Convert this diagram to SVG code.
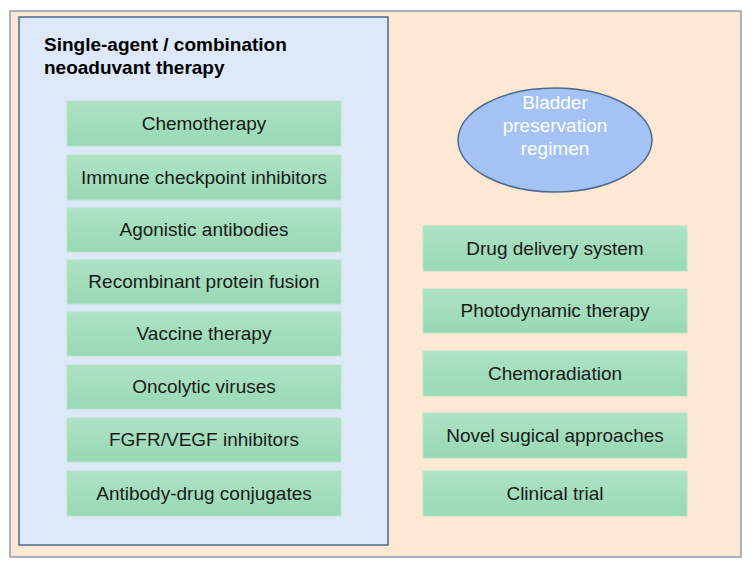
<svg xmlns="http://www.w3.org/2000/svg" width="751" height="567" viewBox="0 0 751 567">
<defs><linearGradient id="g" x1="0" y1="0" x2="0" y2="1"><stop offset="0" stop-color="#aee2c4"/><stop offset="1" stop-color="#98d9b4"/></linearGradient></defs>
<style>.b{fill:url(#g);stroke:#b7e4c9;stroke-width:1}.t{font-family:"Liberation Sans",Arial,sans-serif;font-size:19px;fill:#1a1a1a;text-anchor:middle}.h{font-family:"Liberation Sans",Arial,sans-serif;font-size:19px;font-weight:bold;fill:#000}</style>
<rect x="0" y="0" width="751" height="567" fill="#fff"/>
<rect x="10" y="11" width="731" height="546" fill="#fde9d3" stroke="#8a9bb0" stroke-width="1.5"/>
<g id="panel"><rect x="19" y="17" width="369" height="528" fill="#dde8f8" stroke="#4d6a8f" stroke-width="1.5"/>
<text class="h" x="44" y="51">Single-agent / combination</text>
<text class="h" x="44" y="74">neoaduvant therapy</text></g>
<g id="n1"><rect class="b" x="67" y="101" width="274" height="45"/><text class="t" x="204" y="130">Chemotherapy</text></g>
<g id="n2"><rect class="b" x="67" y="155" width="274" height="45"/><text class="t" x="204" y="184">Immune checkpoint inhibitors</text></g>
<g id="n3"><rect class="b" x="67" y="208" width="274" height="44"/><text class="t" x="204" y="236">Agonistic antibodies</text></g>
<g id="n4"><rect class="b" x="67" y="260" width="274" height="44"/><text class="t" x="204" y="288">Recombinant protein fusion</text></g>
<g id="n5"><rect class="b" x="67" y="312" width="274" height="44"/><text class="t" x="204" y="340">Vaccine therapy</text></g>
<g id="n6"><rect class="b" x="67" y="365" width="274" height="44"/><text class="t" x="204" y="393">Oncolytic viruses</text></g>
<g id="n7"><rect class="b" x="67" y="418" width="274" height="44"/><text class="t" x="204" y="446">FGFR/VEGF inhibitors</text></g>
<g id="n8"><rect class="b" x="67" y="471" width="274" height="45"/><text class="t" x="204" y="500">Antibody-drug conjugates</text></g>
<g id="ell"><ellipse cx="555" cy="140" rx="97" ry="52" fill="#a4c2f4" stroke="#4d6a8f" stroke-width="1.5"/>
<text class="t" x="555" y="109" style="fill:#fff">Bladder</text><text class="t" x="555" y="132" style="fill:#fff">preservation</text><text class="t" x="555" y="155" style="fill:#fff">regimen</text></g>
<g id="r1"><rect class="b" x="423" y="226" width="264" height="45"/><text class="t" x="555" y="255">Drug delivery system</text></g>
<g id="r2"><rect class="b" x="423" y="289" width="264" height="44"/><text class="t" x="555" y="317">Photodynamic therapy</text></g>
<g id="r3"><rect class="b" x="423" y="351" width="264" height="45"/><text class="t" x="555" y="380">Chemoradiation</text></g>
<g id="r4"><rect class="b" x="423" y="413" width="264" height="45"/><text class="t" x="555" y="442">Novel sugical approaches</text></g>
<g id="r5"><rect class="b" x="423" y="471" width="264" height="45"/><text class="t" x="555" y="500">Clinical trial</text></g>
<g id="connectors"/>
</svg>
